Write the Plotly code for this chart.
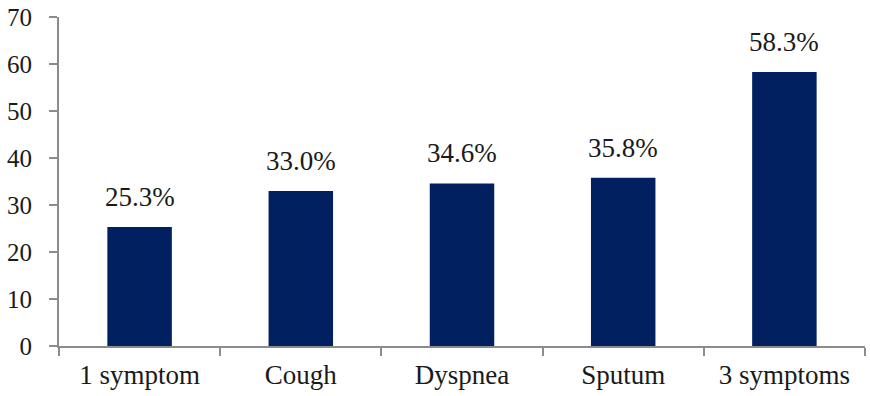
import plotly.graph_objects as go

# Share of patients per symptom group (%)
categories = ["1 symptom", "Cough", "Dyspnea", "Sputum", "3 symptoms"]
values = [25.3, 33.0, 34.6, 35.8, 58.3]
labels = [f"{v:.1f}%" for v in values]
y_ticks = [0, 10, 20, 30, 40, 50, 60, 70]

font_family = "Liberation Serif"
axis_color = "#8c8c8c"
bar_color = "#002060"
text_color = "#1a1a1a"

fig = go.Figure(
    go.Bar(
        x=categories,
        y=values,
        marker=dict(color=bar_color, line=dict(width=0)),
        width=0.4,
    )
)

# Value labels above each bar
for cat, val, lab in zip(categories, values, labels):
    fig.add_annotation(
        x=cat, y=val, text=lab, showarrow=False,
        yanchor="bottom", yshift=13,
        font=dict(family=font_family, size=27, color=text_color),
    )

fig.update_layout(
    width=870, height=396,
    margin=dict(l=59, r=5, t=17, b=50),
    paper_bgcolor="white", plot_bgcolor="white",
    showlegend=False,
    font=dict(family=font_family, size=25, color=text_color),
)
fig.update_xaxes(
    type="category",
    showline=True, linecolor=axis_color, linewidth=2,
    ticks="outside", tickson="boundaries", ticklen=8, tickwidth=2, tickcolor=axis_color,
    showgrid=False, zeroline=False,
    tickfont=dict(family=font_family, size=27, color=text_color),
    ticklabelstandoff=4,
)
fig.update_yaxes(
    range=[0, 70], tickvals=y_ticks,
    showline=True, linecolor=axis_color, linewidth=2,
    ticks="outside", ticklen=8, tickwidth=2, tickcolor=axis_color,
    showgrid=False, zeroline=False,
    tickfont=dict(family=font_family, size=25, color=text_color),
    ticklabelstandoff=12,
)

fig.write_html("out.html")
